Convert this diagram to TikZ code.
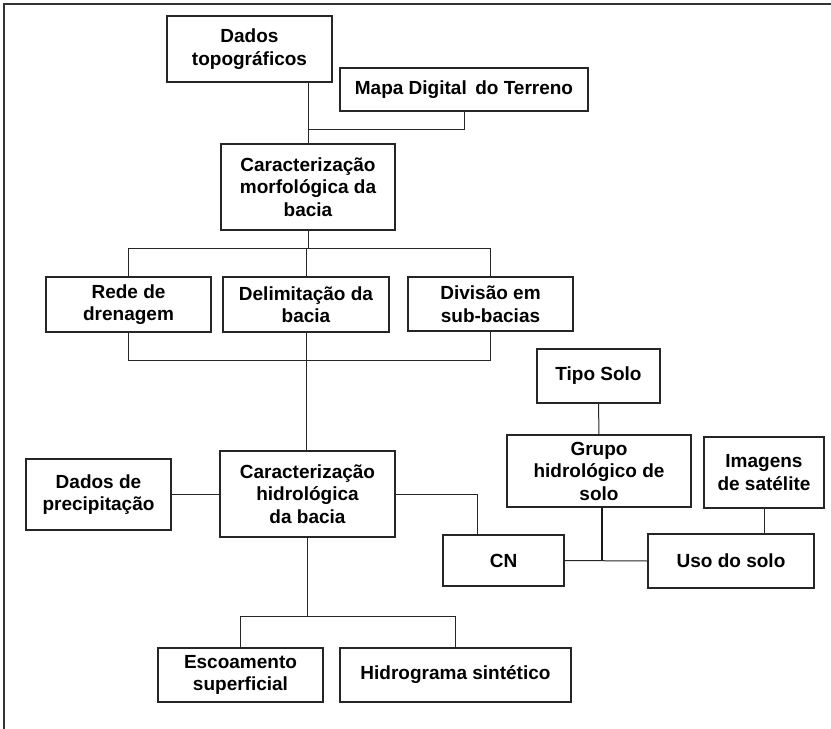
\documentclass[tikz,border=0pt]{standalone}
\usepackage{fontspec}
\setmainfont{Liberation Sans}
\begin{document}
\begin{tikzpicture}[x=1pt,y=-1pt,
  box/.style={draw=black!85, line width=1.3pt, fill=white, inner sep=0pt, outer sep=0pt,
    align=center, font=\bfseries\fontsize{19}{22.5}\selectfont},
  wire/.style={draw=black!85, line width=1pt},
  thickwire/.style={draw=black!90, line width=1.8pt},
  frameline/.style={draw=black!80, line width=2pt}]
\useasboundingbox (0,0) rectangle (831,729);
% frame
\draw[frameline] (4,729) -- (4,4) -- (831,4);
% boxes
\node[box, minimum width=165pt, minimum height=66pt] (dados) at (249.5,49) {Dados\\topográficos};
\node[box, minimum width=248pt, minimum height=43pt] (mapa) at (464,89.5) {Mapa Digital\, do Terreno};
\node[box, minimum width=174pt, minimum height=86pt] (morf) at (308,187) {Caracterização\\morfológica da\\bacia};
\node[box, minimum width=165pt, minimum height=55pt] (rede) at (128.5,304.5) {Rede de\\drenagem};
\node[box, minimum width=166pt, minimum height=55pt] (delim) at (306,304.5) {Delimitação da\\bacia};
\node[box, minimum width=165pt, minimum height=54pt] (divisao) at (490.5,304) {Divisão em\\sub-bacias};
\node[box, minimum width=123pt, minimum height=54pt] (tipo) at (598.5,376) {Tipo Solo};
\node[box, minimum width=184pt, minimum height=72pt] (grupo) at (599,471) {Grupo\\hidrológico de\\solo};
\node[box, minimum width=120pt, minimum height=71pt] (imagens) at (764,472.5) {Imagens\\de satélite};
\node[box, minimum width=145pt, minimum height=71pt] (precip) at (98.5,494.5) {Dados de\\precipitação};
\node[box, minimum width=175pt, minimum height=86pt] (hidro) at (307.5,494) {Caracterização\\hidrológica\\da bacia};
\node[box, minimum width=121pt, minimum height=51pt] (cn) at (503.5,560.5) {CN};
\node[box, minimum width=166pt, minimum height=54pt] (uso) at (731,561) {Uso do solo};
\node[box, minimum width=165pt, minimum height=54pt] (esco) at (240.5,675) {Escoamento\\superficial};
\node[box, minimum width=231pt, minimum height=54pt] (hidrog) at (455.5,675) {Hidrograma sintético};
% junction coordinates
\coordinate (jtop) at (0,129);
\coordinate (bus1) at (0,248);
\coordinate (bus2) at (0,360);
\coordinate (cnx) at (477,0);
\coordinate (gx) at (602,0);
\coordinate (bus3) at (0,616);
% connectors
\draw[wire] (dados.south -| morf.north) -- (morf.north);
\draw[wire] (mapa.south) |- (morf.north |- jtop);
\draw[wire] (morf.south) -- (morf.south |- bus1);
\draw[wire] (rede.north) -- (rede.north |- bus1) -- (divisao.north |- bus1) -- (divisao.north);
\draw[wire] (delim.north) -- (delim.north |- bus1);
\draw[wire] (rede.south) -- (rede.south |- bus2) -- (divisao.south |- bus2) -- (divisao.south);
\draw[wire] (delim.south) -- (delim.south |- hidro.north);
\draw[wire] (precip.east) -- (precip.east -| hidro.west);
\draw[wire] (hidro.east) -| (cnx |- cn.north);
\draw[wire] (tipo.south) -- (grupo.north);
\draw[thickwire] (gx |- grupo.south) -- (gx |- cn.east);
\draw[wire] (cn.east) -- (uso.west);
\draw[wire] (imagens.south) -- (imagens.south |- uso.north);
\draw[wire] (hidro.south) -- (hidro.south |- bus3);
\draw[wire] (esco.north) -- (esco.north |- bus3) -- (hidrog.north |- bus3) -- (hidrog.north);
\end{tikzpicture}
\end{document}
